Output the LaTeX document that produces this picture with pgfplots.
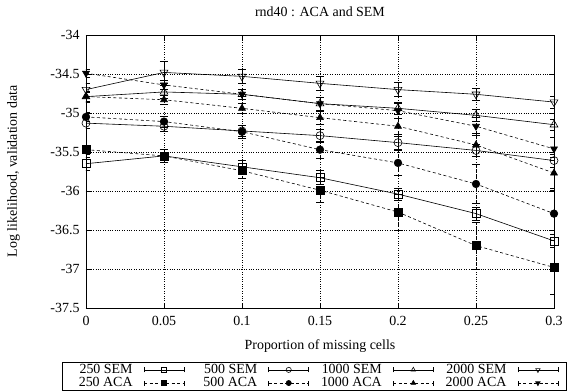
\documentclass[border=0pt]{standalone}
\usepackage{fontspec}
\setmainfont{Liberation Serif}
\usepackage{pgfplots}
\pgfplotsset{compat=1.18}
\newcommand{\lt}[1]{\makebox[61bp][r]{#1}}
\begin{document}
\begin{tikzpicture}[font=\fontsize{14}{16}\selectfont]
\begin{axis}[
  scale only axis, width=468bp, height=273bp,
  xmin=0, xmax=0.3, ymin=-37.5, ymax=-34,
  xtick={0,0.05,0.1,0.15,0.2,0.25,0.3},
  xticklabels={0,0.05,0.1,0.15,0.2,0.25,0.3},
  ytick={-37.5,-37,-36.5,-36,-35.5,-35,-34.5,-34},
  yticklabels={-37.5,-37,-36.5,-36,-35.5,-35,-34.5,-34},
  tick align=inside, major tick length=5bp,
  tick style={black, line width=0.5bp},
  grid=major, grid style={dotted, black, line width=0.5bp},
  axis line style={line width=0.8bp},
  xlabel={Proportion of missing cells},
  ylabel={Log likelihood, validation data},
  title={rnd40 : ACA and SEM},
  ticklabel style={font=\fontsize{14}{16}\selectfont},
  xticklabel style={anchor=base, yshift=-17bp},
  yticklabel style={anchor=east, xshift=-3bp},
  label style={font=\fontsize{14}{16}\selectfont},
  xlabel style={at={(axis description cs:0.5,0)}, anchor=base, yshift=-41.5bp},
  ylabel style={at={(axis description cs:-0.155,0.5)}, anchor=center},
  title style={font=\fontsize{14}{16}\selectfont, at={(axis description cs:0.5,1.064)}, anchor=center},
  legend columns=4,
  legend plot pos=right,
  legend style={at={(axis description cs:-0.051,-0.1978)}, anchor=north west, draw=black, line width=0.6bp,
    font=\fontsize{14}{15}\selectfont, inner xsep=8bp, inner ysep=1bp, row sep=0bp,
    nodes={inner sep=1.2bp},
    /tikz/every odd column/.append style={column sep=10bp},
    /tikz/every even column/.append style={column sep=10.6bp}},
  legend image code/.code={
    \draw[mark repeat=2,mark phase=2,#1,mark size=2.6bp] plot coordinates {(0bp,0bp) (20bp,0bp) (40bp,0bp)};
    \draw[#1,solid] (0bp,-2.5bp) -- (0bp,2.5bp) (40bp,-2.5bp) -- (40bp,2.5bp);
  },
  every axis plot/.append style={black, line width=0.6bp},
  error bars/y dir=both, error bars/y explicit,
  error bars/error mark options={rotate=90, mark size=4bp, solid, line width=0.6bp},
]
% SEM (solid)
\addplot[solid, mark=square, mark size=4bp, mark options={solid}, error bars/error bar style={solid, line width=0.6bp}]
  table[x=x, y=y, y error=e] {
x y e
0 -35.65 0.08
0.05 -35.55 0.08
0.1 -35.69 0.08
0.15 -35.83 0.09
0.2 -36.04 0.08
0.25 -36.29 0.08
0.3 -36.64 0.08
};
\addlegendentry{\lt{250 SEM}}
\addplot[solid, mark=o, mark size=4bp, mark options={solid}, error bars/error bar style={solid, line width=0.6bp}]
  table[x=x, y=y, y error=e] {
x y e
0 -35.13 0.07
0.05 -35.17 0.07
0.1 -35.23 0.07
0.15 -35.29 0.08
0.2 -35.38 0.08
0.25 -35.48 0.08
0.3 -35.61 0.08
};
\addlegendentry{\lt{500 SEM}}
\addplot[solid, mark=triangle, mark size=4.5bp, mark options={solid}, error bars/error bar style={solid, line width=0.6bp}]
  table[x=x, y=y, y error=e] {
x y e
0 -34.79 0.07
0.05 -34.73 0.08
0.1 -34.76 0.07
0.15 -34.88 0.08
0.2 -34.94 0.08
0.25 -35.03 0.08
0.3 -35.15 0.07
};
\addlegendentry{\lt{1000 SEM}}
\addplot[solid, mark=triangle, mark size=4.5bp, mark options={solid, rotate=180}, error bars/error bar style={solid, line width=0.6bp}]
  table[x=x, y=y, y error=e] {
x y e
0 -34.70 0.08
0.05 -34.48 0.14
0.1 -34.53 0.09
0.15 -34.62 0.09
0.2 -34.70 0.09
0.25 -34.76 0.08
0.3 -34.86 0.08
};
\addlegendentry{\lt{2000 SEM}}
% ACA (dashed)
\addplot[dash pattern=on 3bp off 2.5bp, mark=square*, mark size=4bp, mark options={solid}, error bars/error bar style={dash pattern=on 3bp off 2.5bp, line width=0.6bp}]
  table[x=x, y=y, y error=e] {
x y e
0 -35.47 0.06
0.05 -35.55 0.08
0.1 -35.74 0.10
0.15 -35.99 0.16
0.2 -36.27 0.23
0.25 -36.70 0.30
0.3 -36.98 0.35
};
\addlegendentry{\lt{250 ACA}}
\addplot[dash pattern=on 3bp off 2.5bp, mark=*, mark size=3.8bp, mark options={solid}, error bars/error bar style={dash pattern=on 3bp off 2.5bp, line width=0.6bp}]
  table[x=x, y=y, y error=e] {
x y e
0 -35.05 0.06
0.05 -35.11 0.07
0.1 -35.24 0.08
0.15 -35.47 0.11
0.2 -35.64 0.16
0.25 -35.91 0.25
0.3 -36.29 0.30
};
\addlegendentry{\lt{500 ACA}}
\addplot[dash pattern=on 3bp off 2.5bp, mark=triangle*, mark size=4bp, mark options={solid}, error bars/error bar style={dash pattern=on 3bp off 2.5bp, line width=0.6bp}]
  table[x=x, y=y, y error=e] {
x y e
0 -34.79 0.06
0.05 -34.83 0.06
0.1 -34.94 0.07
0.15 -35.06 0.08
0.2 -35.17 0.10
0.25 -35.41 0.15
0.3 -35.77 0.20
};
\addlegendentry{\lt{1000 ACA}}
\addplot[dash pattern=on 3bp off 2.5bp, mark=triangle*, mark size=4bp, mark options={solid, rotate=180}, error bars/error bar style={dash pattern=on 3bp off 2.5bp, line width=0.6bp}]
  table[x=x, y=y, y error=e] {
x y e
0 -34.49 0.05
0.05 -34.64 0.06
0.1 -34.76 0.07
0.15 -34.88 0.08
0.2 -34.97 0.10
0.25 -35.17 0.12
0.3 -35.46 0.15
};
\addlegendentry{\lt{2000 ACA}}
\coordinate (O) at (rel axis cs:0,0);
\end{axis}
\pgfresetboundingbox
\path ([shift={(-86bp,-84bp)}]O) rectangle ([shift={(483bp,308bp)}]O);
\end{tikzpicture}
\end{document}
